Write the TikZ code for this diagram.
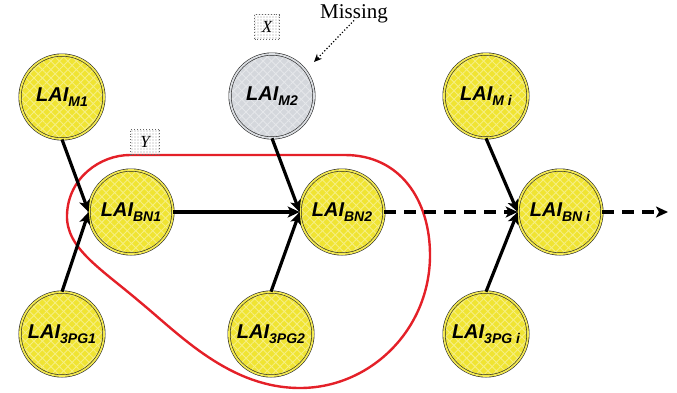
\documentclass[tikz,border=0pt]{standalone}
\usepackage{fontspec}
\setmainfont{Liberation Serif}
\newfontfamily\labfont{Liberation Sans}
\usetikzlibrary{arrows.meta,patterns.meta}
\definecolor{Yel}{RGB}{240,228,50}
\definecolor{Gry}{RGB}{212,215,220}
\definecolor{Rd}{RGB}{228,32,40}
\newcommand\lsub[1]{\raisebox{-5pt}{\fontsize{14}{14}\selectfont #1}}
\tikzset{
  lai/.style={circle, minimum size=84pt, inner sep=0pt, draw=black!85, line width=0.6pt,
    double=#1!85!white, double distance=1.8pt,
    preaction={fill=#1},
    preaction={pattern={Lines[angle=45,distance=6pt,line width=0.9pt]}, pattern color=white!40!#1},
    pattern={Lines[angle=-45,distance=6pt,line width=0.9pt]}, pattern color=white!40!#1,
    font=\labfont\bfseries\itshape\fontsize{20}{20}\selectfont},
  conn/.style={line width=3.2pt, -{Stealth[length=12pt,width=11pt,inset=3pt]}},
  dconn/.style={conn, dash pattern=on 12pt off 8pt},
  dotbox/.style={draw=black!60, dotted, line width=0.9pt,
    pattern={Dots[distance=3pt,radius=0.6pt]}, pattern color=black!40,
    minimum width=#1, minimum height=25pt, inner sep=0pt, font=\itshape\fontsize{17}{17}\selectfont},
  missarrow/.style={dotted, line width=1.2pt, -{Stealth[length=8pt,width=7pt]}},
  loop/.style={draw=Rd, line width=2.4pt}
}
\begin{document}
\begin{tikzpicture}[x=1pt,y=-1pt]
\useasboundingbox (0,0) rectangle (677,392);
% red loop
\draw[loop] (130,155) -- (345,155) .. controls (400,155) and (430,200) .. (430,255)
  .. controls (430,330) and (370,388) .. (300,388)
  .. controls (230,388) and (180,335) .. (140,302)
  .. controls (100,268) and (66,248) .. (67,215)
  .. controls (68,178) and (100,155) .. (130,155) -- cycle;
% nodes
\node[lai=Yel] (M1) at (62,97) {LAI\lsub{M1}};
\node[lai=Gry] (M2) at (272,96) {LAI\lsub{M2}};
\node[lai=Yel] (Mi) at (486,96) {LAI\lsub{M i}};
\node[lai=Yel] (BN1) at (131,212) {LAI\lsub{BN1}};
\node[lai=Yel] (BN2) at (342,212) {LAI\lsub{BN2}};
\node[lai=Yel] (BNi) at (560,212) {LAI\lsub{BN i}};
\node[lai=Yel] (P1) at (62,334) {LAI\lsub{3PG1}};
\node[lai=Yel] (P2) at (271,334) {LAI\lsub{3PG2}};
\node[lai=Yel] (Pi) at (486,334) {LAI\lsub{3PG i}};
% connectors
\draw[conn] (M1.south) -- (BN1.west);
\draw[conn] (P1.north) -- (BN1.west);
\draw[conn] (BN1.east) -- (BN2.west);
\draw[conn] (M2.south) -- (BN2.west);
\draw[conn] (P2.north) -- (BN2.west);
\draw[dconn] (BN2.east) -- (BNi.west);
\draw[conn] (Mi.south) -- (BNi.west);
\draw[conn] (Pi.north) -- (BNi.west);
\coordinate (endpt) at (668,212);
\draw[dconn] (BNi.east) -- (endpt);
% labels
\node[dotbox=25pt] (X) at (267,27) {X};
\node[dotbox=29pt] (Y) at (145,142) {Y};
\node[font=\fontsize{21}{21}\selectfont, inner sep=0pt] (miss) at (354,14) {Missing};
\coordinate (mtip) at (314,62);
\draw[missarrow] ([yshift=3pt]miss.south) -- (mtip);
\end{tikzpicture}
\end{document}
